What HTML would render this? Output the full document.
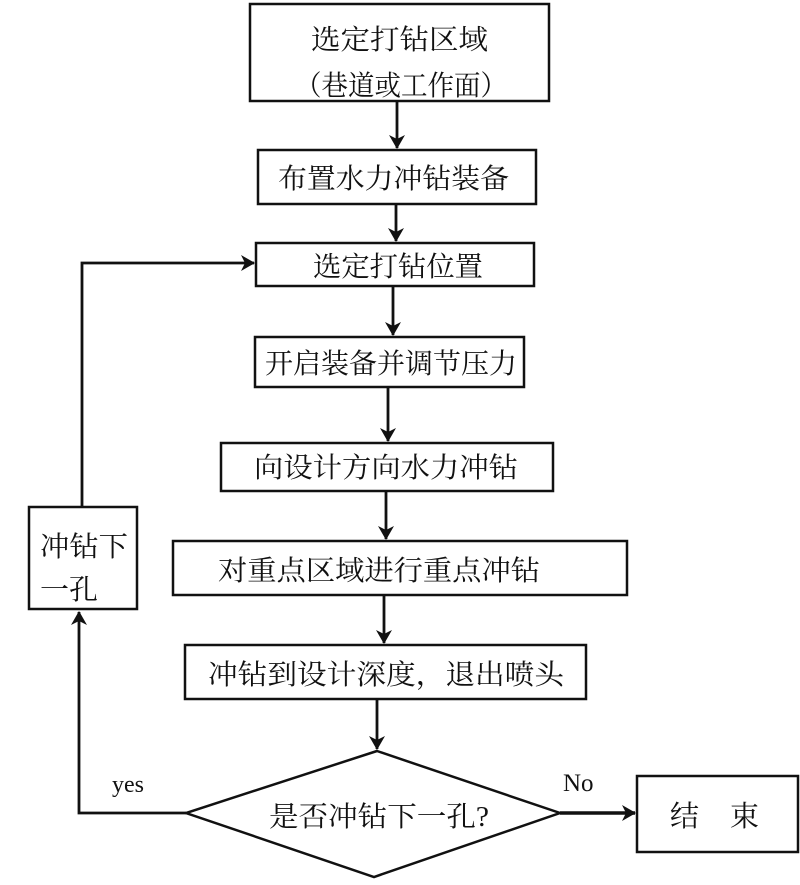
<!DOCTYPE html>
<html><head><meta charset="utf-8"><style>
body{margin:0;background:#fff;}
svg text{font-family:"Liberation Serif","Noto Serif CJK SC",serif;fill:#111;}
</style></head><body>
<svg width="800" height="880" viewBox="0 0 800 880" xmlns="http://www.w3.org/2000/svg">
<defs>
<marker id="b" markerWidth="14" markerHeight="16" refX="13" refY="8" orient="auto" markerUnits="userSpaceOnUse"><path d="M0,0 L14,8 L0,16 L4,8 z" fill="#111"/></marker></defs>
<g fill="none" stroke="#111" stroke-width="2.5">
<rect x="250" y="4" width="299" height="97"/>
<rect x="258" y="150" width="278" height="54"/>
<rect x="256" y="243" width="278" height="43"/>
<rect x="255" y="337" width="269" height="50"/>
<rect x="221" y="443" width="332" height="48"/>
<rect x="173" y="541" width="454" height="54"/>
<rect x="185" y="645" width="401" height="54"/>
<rect x="637" y="776" width="161" height="76"/>
<rect x="29" y="507" width="108" height="102"/>
<path d="M377,751 L560,813 L374,877 L186,813 Z"/>
</g>
<g stroke="#111" stroke-width="2.8" fill="none">
<line x1="397" y1="101" x2="397" y2="148" marker-end="url(#b)"/>
<line x1="396" y1="204" x2="396" y2="241" marker-end="url(#b)"/>
<line x1="393" y1="286" x2="393" y2="335" marker-end="url(#b)"/>
<line x1="388" y1="387" x2="388" y2="441" marker-end="url(#b)"/>
<line x1="386" y1="491" x2="386" y2="539" marker-end="url(#b)"/>
<line x1="384" y1="595" x2="384" y2="643" marker-end="url(#b)"/>
<line x1="377" y1="699" x2="377" y2="749" marker-end="url(#b)"/>
<line x1="560" y1="813" x2="635" y2="813" stroke-width="3.5" marker-end="url(#b)"/>
<polyline points="186,813 79,813 79,612" marker-end="url(#b)"/>
<polyline points="82,507 82,263 254,263" marker-end="url(#b)"/>
</g>
<g font-size="28" lengthAdjust="spacingAndGlyphs">
<text x="311" y="49" textLength="177" lengthAdjust="spacingAndGlyphs">选定打钻区域</text>
<text x="295" y="95" textLength="212" lengthAdjust="spacingAndGlyphs">（巷道或工作面）</text>
<text x="278" y="188" textLength="231" lengthAdjust="spacingAndGlyphs">布置水力冲钻装备</text>
<text x="313" y="276" textLength="170" lengthAdjust="spacingAndGlyphs">选定打钻位置</text>
<text x="265" y="373" textLength="252" lengthAdjust="spacingAndGlyphs">开启装备并调节压力</text>
<text x="254" y="477" textLength="264" lengthAdjust="spacingAndGlyphs">向设计方向水力冲钻</text>
<text x="218" y="580" textLength="322" lengthAdjust="spacingAndGlyphs">对重点区域进行重点冲钻</text>
<text x="208" y="684" textLength="356" lengthAdjust="spacingAndGlyphs">冲钻到设计深度，退出喷头</text>
<text x="269" y="826" textLength="220" lengthAdjust="spacingAndGlyphs">是否冲钻下一孔?</text>
<text x="670" y="826" font-size="29">结</text>
<text x="730" y="826" font-size="29">束</text>
<text x="40" y="556" textLength="88" lengthAdjust="spacingAndGlyphs">冲钻下</text>
<text x="40" y="599" textLength="58" lengthAdjust="spacingAndGlyphs">一孔</text>
<text x="112" y="792" font-size="24">yes</text>
<text x="563" y="791" font-size="25">No</text>
</g>
</svg>
</body></html>
